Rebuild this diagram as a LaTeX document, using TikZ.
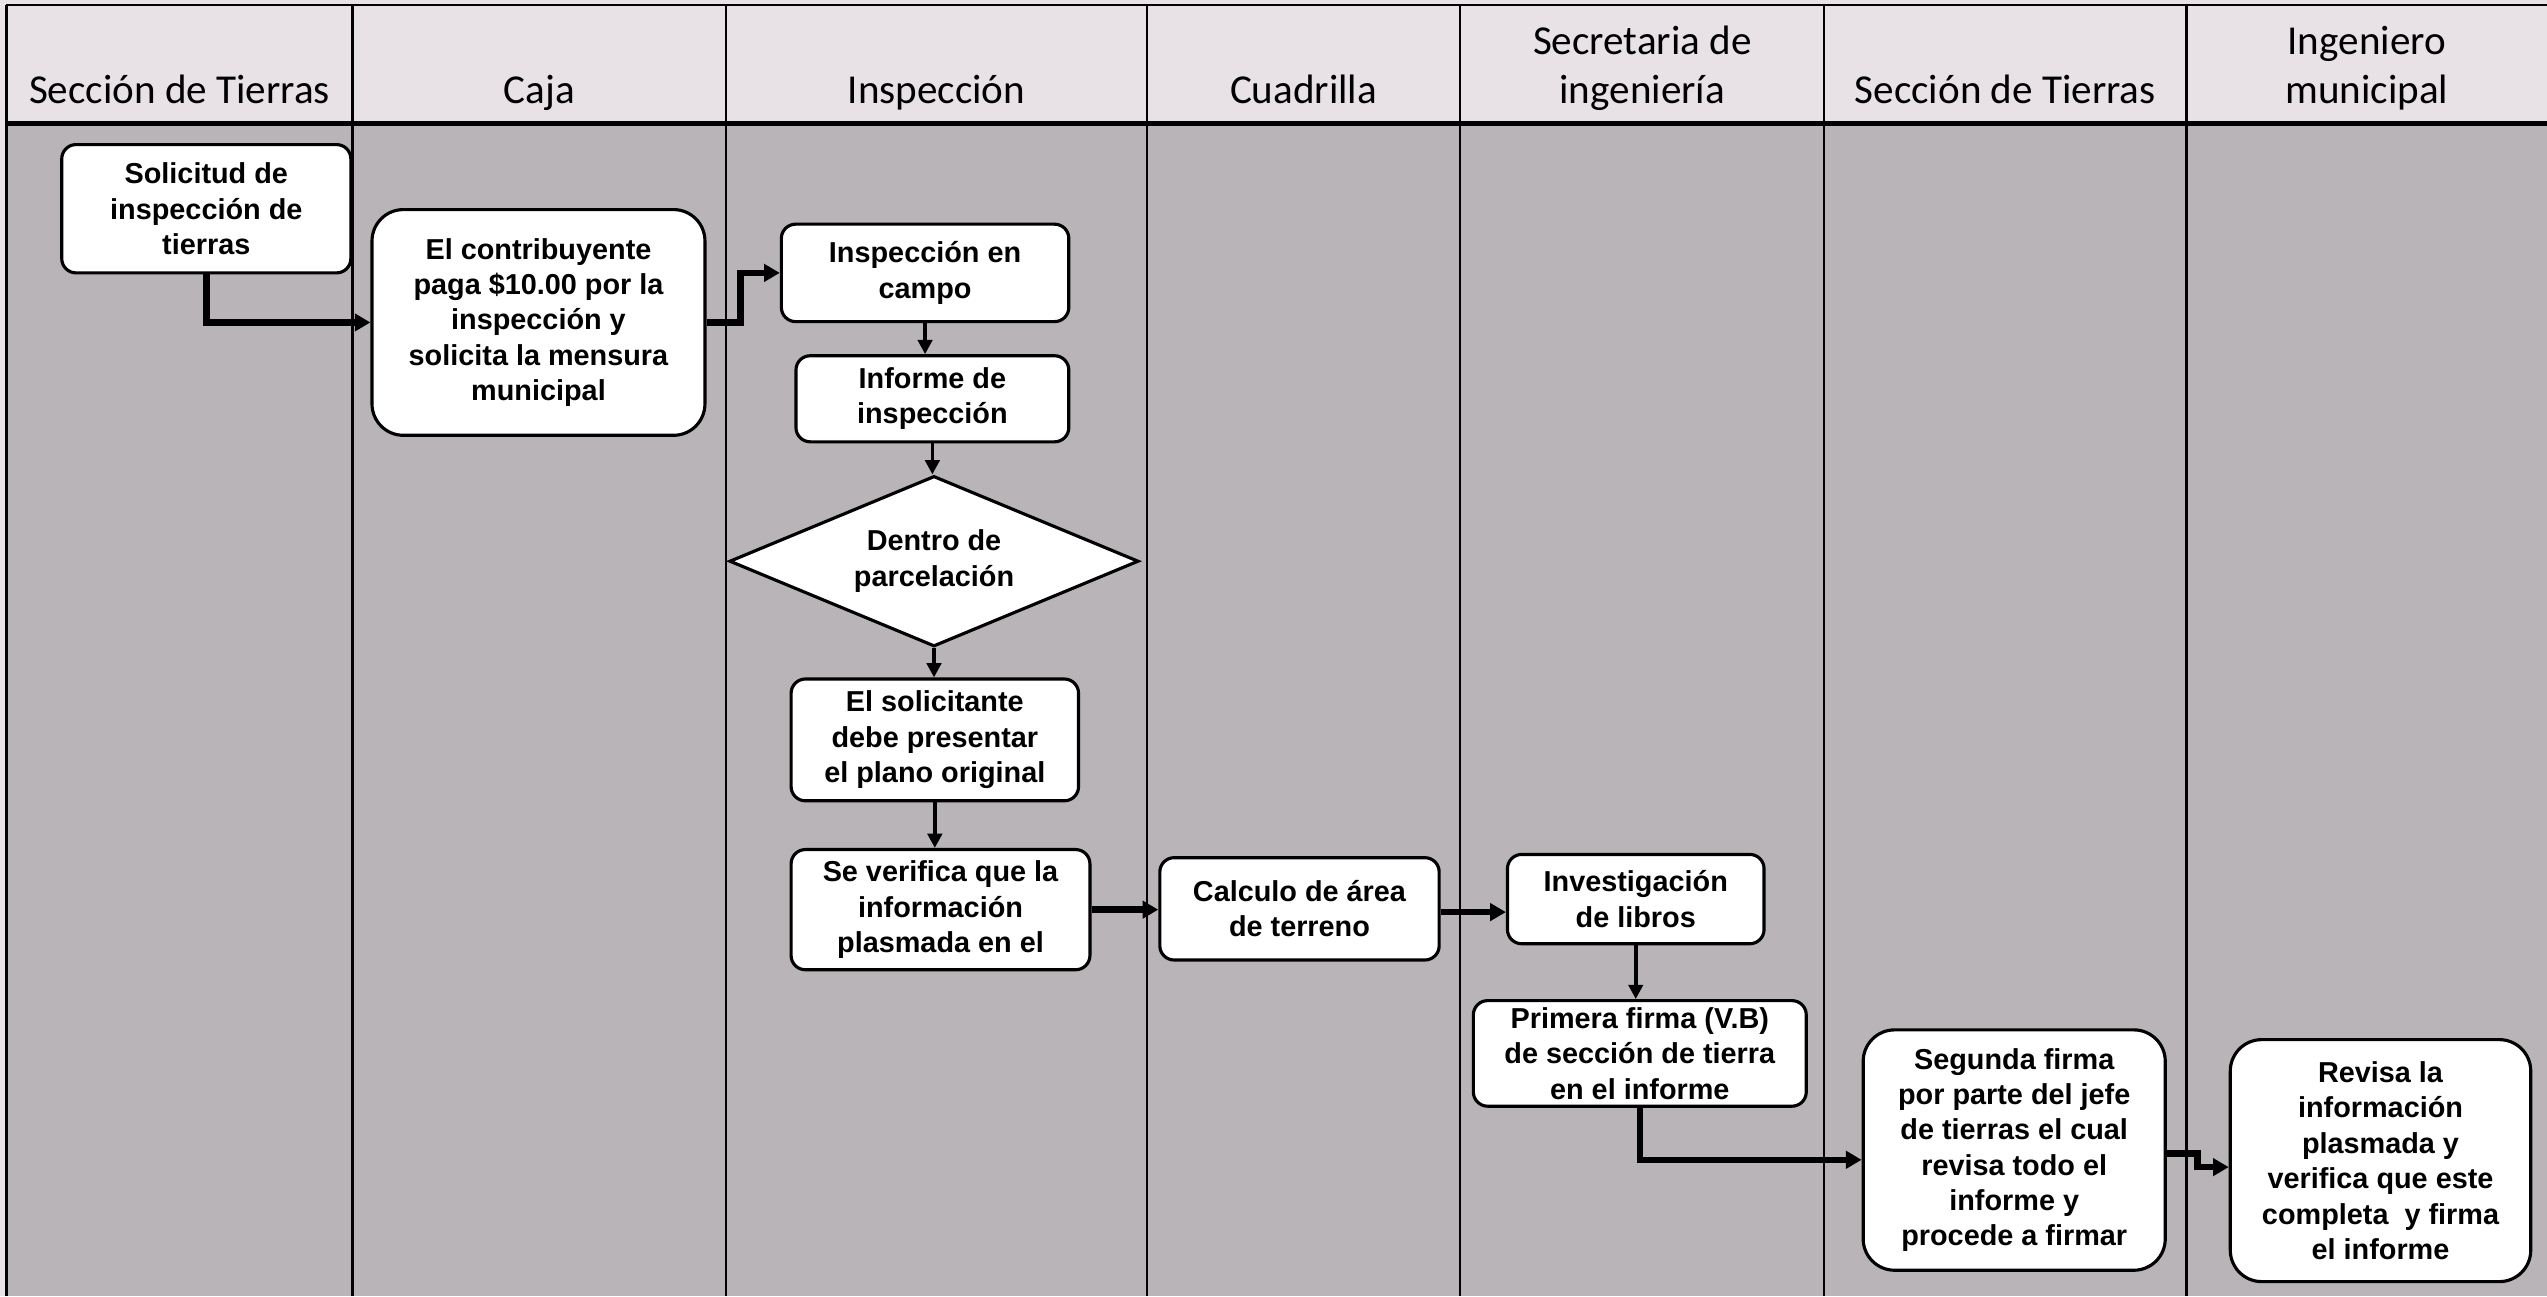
\documentclass[tikz,border=0pt]{standalone}
\usepackage{fontspec}
\setmainfont{Liberation Sans}
\newfontfamily\carrilfont{Carlito}
\usetikzlibrary{shapes.geometric}
\usetikzlibrary{arrows.meta, positioning}
\usepackage{xcolor}
\definecolor{cabecera}{RGB}{232,226,230}
\definecolor{carril}{RGB}{184,180,184}

\begin{document}
\begin{tikzpicture}[x=0.02cm, y=-0.02cm,
    paso/.style={draw, fill=white, line width=1.1pt, rounded corners=5pt,
        align=center, inner sep=0pt, font=\bfseries\fontsize{10.1}{12.4}\selectfont},
    pasogrande/.style={paso, rounded corners=11pt},
    decision/.style={diamond, draw, fill=white, line width=1.1pt, aspect=2.4,
        align=center, inner sep=0pt, font=\bfseries\fontsize{10.1}{12.4}\selectfont},
    titulo/.style={anchor=base, align=center, font=\carrilfont\fontsize{14.4}{17.2}\selectfont},
    flujo/.style={-{Triangle[length=5.5pt,width=6pt]}, line width=2.3pt},
    enlace/.style={-{Triangle[length=5pt,width=5pt]}, line width=1.3pt}]

    \useasboundingbox (0,0) rectangle (1568,798);
    % fondo y carriles
    \fill[cabecera] (0,0) rectangle (1568,798);
    \fill[carril] (4,76) rectangle (1568,798);
    \draw[line width=0.8pt] (4,3) -- (1568,3);
    \foreach \xa/\xb/\nombre [count=\i] in {4/217/{Sección de Tierras}, 217/447/Caja,
        447/706/Inspección, 706/899/Cuadrilla, 899/1123/{Secretaria de\\ingeniería},
        1123/1346/{Sección de Tierras}, 1346/1568/{Ingeniero\\municipal}}
    {
        \draw[line width=0.8pt] (\xa,3) -- (\xa,798);
        \node[titulo] (h\i) at ({(\xa+\xb)/2},64) {\nombre};
    }
    \draw[line width=2pt] (4,76) -- (1568,76);

    \node[paso, minimum width=3.56cm, minimum height=1.58cm] (solicitud) at (127,128.5)
        {Solicitud de\\inspección de\\tierras};
    \node[pasogrande, minimum width=4.1cm, minimum height=2.78cm] (contrib) at (331.5,198.5)
        {El contribuyente\\paga \$10.00 por la\\inspección y\\solicita la mensura\\municipal};
    \node[paso, minimum width=3.54cm, minimum height=1.2cm] (campo) at (569.5,168)
        {Inspección en\\campo};
    \node[paso, minimum width=3.36cm, minimum height=1.06cm] (informe) at (574,245.5)
        {Informe de\\inspección};
    \node[decision, minimum width=5.04cm, minimum height=2.1cm] (dentro) at (575,345.5)
        {Dentro de\\parcelación};
    \node[paso, minimum width=3.54cm, minimum height=1.5cm] (solicitante) at (575.5,455.5)
        {El solicitante\\debe presentar\\el plano original};
    \node[paso, minimum width=3.68cm, minimum height=1.48cm] (verifica) at (579,560)
        {Se verifica que la\\información\\plasmada en el};
    \node[paso, minimum width=3.44cm, minimum height=1.26cm] (calculo) at (800,559.5)
        {Calculo de área\\de terreno};
    \node[paso, minimum width=3.16cm, minimum height=1.1cm] (libros) at (1007,553.5)
        {Investigación\\de libros};
    \node[paso, minimum width=4.1cm, minimum height=1.3cm] (primera) at (1009.5,648.5)
        {Primera firma (V.B)\\de sección de tierra\\en el informe};
    \node[pasogrande, minimum width=3.72cm, minimum height=2.96cm] (segunda) at (1240,708)
        {Segunda firma\\por parte del jefe\\de tierras el cual\\revisa todo el\\informe y\\procede a firmar};
    \node[pasogrande, minimum width=3.7cm, minimum height=2.98cm] (revisa) at (1465.5,714.5)
        {Revisa la\\información\\plasmada y\\verifica que este\\completa~ y firma\\el informe};

    % conectores
    \draw[flujo] (solicitud.south) |- (contrib.west);
    \draw[flujo] (contrib.east) -- ++(21,0) |- (campo.west);
    \draw[enlace] (campo.south) -- (campo.south |- informe.north);
    \draw[enlace] (informe.south) -- (informe.south |- dentro.north);
    \draw[enlace] (dentro.south) -- (dentro.south |- solicitante.north);
    \draw[enlace] (solicitante.south) -- (solicitante.south |- verifica.north);
    \draw[flujo] (verifica.east) -- (verifica.east -| calculo.west);
    \draw[flujo] ([yshift=-0.04cm]calculo.east) -- ([yshift=-0.04cm]calculo.east -| libros.west);
    \draw[enlace] (libros.south) -- (libros.south |- primera.north);
    \draw[flujo] (primera.south) |- ([yshift=-0.12cm]segunda.west);
    \draw[flujo] ([yshift=-0.04cm]segunda.east) -- ++(19,0) |- ([yshift=-0.08cm]revisa.west);

\end{tikzpicture}
\end{document}
